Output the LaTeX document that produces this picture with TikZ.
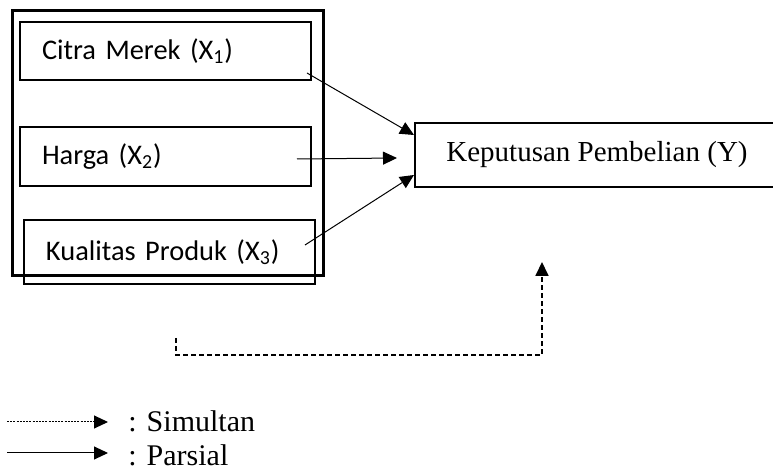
\documentclass[tikz,border=0pt]{standalone}
\usepackage{fontspec}
\setmainfont{Liberation Serif}
\newfontfamily\calibri{Carlito}
\usetikzlibrary{arrows.meta, positioning, calc}

\begin{document}
\begin{tikzpicture}[
  x=0.5pt, y=-0.5pt,
  >={Triangle[length=7pt, width=6.5pt]},
  varbox/.style = {draw, line width=1pt, rectangle, anchor=north west,
                   font=\calibri\fontsize{14.2}{17}\selectfont, align=left,
                   text width=123.5pt, inner xsep=11pt, inner ysep=0pt,
                   minimum width=145.5pt},
  frame/.style  = {draw, line width=1.5pt, rectangle, anchor=north west,
                   minimum width=155.5pt, minimum height=132.5pt, inner sep=0pt},
  depbox/.style = {draw, line width=1pt, rectangle, anchor=north west,
                   font=\fontsize{14.5}{17}\selectfont,
                   minimum width=182pt, minimum height=32pt},
  parsial/.style = {->, line width=0.5pt},
  simultan/.style = {->, line width=0.9pt, dash pattern=on 2.5pt off 1.5pt},
  legtext/.style = {anchor=base west, inner sep=0pt, font=\fontsize{15}{18}\selectfont},
]
  \useasboundingbox (0,0) rectangle (773,470);

  % variabel bebas
  \node[frame]                          (grp) at (11,9)   {};
  \node[varbox, minimum height=29pt]    (cm)  at (19,21)  {Citra Merek (X\textsubscript{1})};
  \node[varbox, minimum height=29.5pt]  (hg)  at (19,126) {Harga (X\textsubscript{2})};
  \node[varbox, minimum height=32pt]    (kp)  at (23,219) {Kualitas Produk (X\textsubscript{3})};

  % variabel terikat
  \node[depbox] (kpb) at (414,122) {Keputusan Pembelian (Y)};

  \coordinate (cmo) at (307,73);
  \coordinate (hgo) at (297,159);
  \coordinate (kpo) at (305,245);
  \coordinate (hgi) at (397,158);

  \draw[parsial] (cmo) -- ($(kpb.north west)+(0,13)$);
  \draw[parsial] (hgo) -- (hgi);
  \draw[parsial] (kpo) -- ($(kpb.south west)+(0,-13)$);

  % simultan
  \coordinate (sa) at (176,338);
  \coordinate (sb) at (176,355);
  \coordinate (sc) at (542,355);
  \coordinate (sd) at (542,262);
  \draw[simultan] (sa) -- (sb) -- (sc) -- (sd);

  % keterangan
  \coordinate (l1a) at (7,422);
  \coordinate (l1b) at (108,422);
  \coordinate (l2a) at (7,453);
  \coordinate (l2b) at (108,453);
  \draw[->, line width=0.5pt, dash pattern=on 1pt off 0.6pt] (l1a) -- (l1b);
  \draw[parsial] (l2a) -- (l2b);
  \node[legtext] (lsim) at (128,432) {: Simultan};
  \node[legtext] (lpar) at (128,466) {: Parsial};
\end{tikzpicture}
\end{document}
